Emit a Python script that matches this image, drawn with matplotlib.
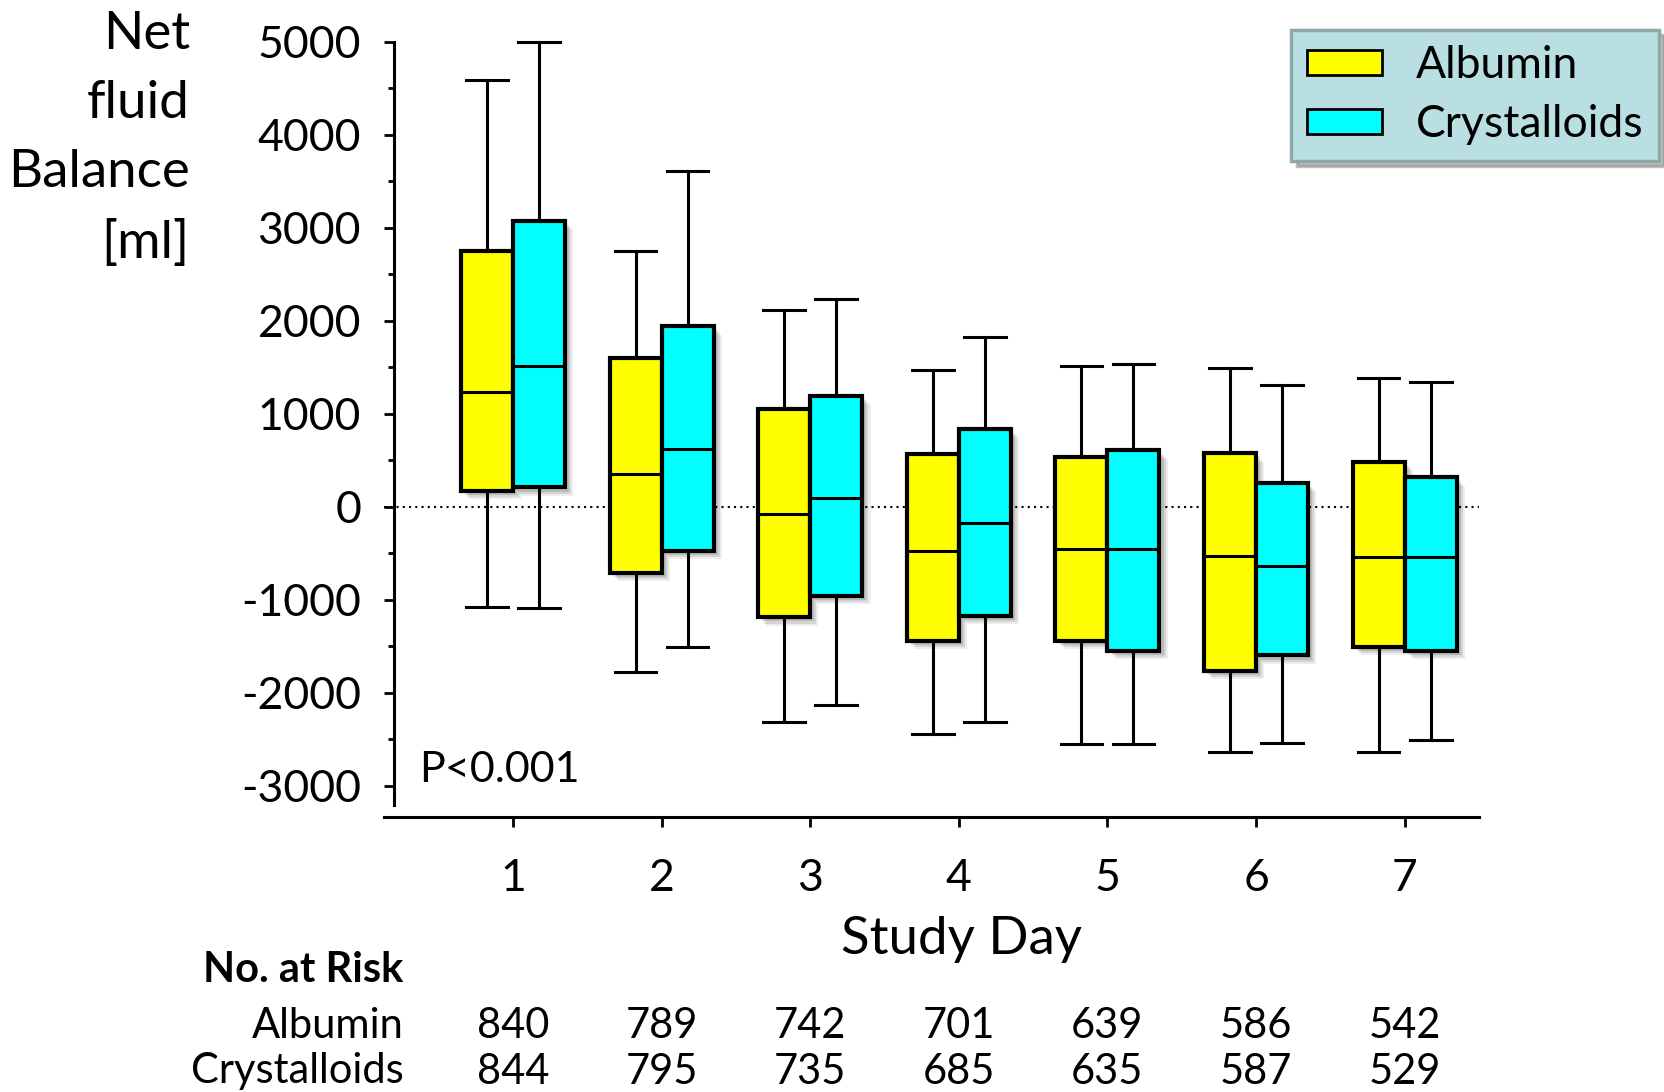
import numpy as np
import matplotlib
matplotlib.use("Agg")
import matplotlib.pyplot as plt
import matplotlib.patheffects as pe
from matplotlib.patches import Patch
from matplotlib.transforms import blended_transform_factory

plt.rcParams['font.family'] = ['Lato', 'DejaVu Sans']

# box statistics (ml)
days = [1, 2, 3, 4, 5, 6, 7]
alb_whislo = [-1079, -1773, -2312, -2444, -2555, -2641, -2638]
alb_q1 = [173, -708, -1189, -1444, -1441, -1767, -1505]
alb_med = [1228, 347, -82, -476, -458, -530, -541]
alb_q3 = [2750, 1604, 1050, 570, 538, 574, 484]
alb_whishi = [4591, 2746, 2112, 1466, 1516, 1488, 1387]

crys_whislo = [-1093, -1513, -2136, -2315, -2555, -2544, -2509]
crys_q1 = [207, -477, -960, -1175, -1552, -1598, -1548]
crys_med = [1508, 617, 94, -179, -458, -638, -541]
crys_q3 = [3073, 1941, 1194, 835, 606, 258, 316]
crys_whishi = [5000, 3613, 2233, 1821, 1534, 1312, 1341]

alb_risk = [840, 789, 742, 701, 639, 586, 542]
crys_risk = [844, 795, 735, 685, 635, 587, 529]

ALB_COLOR = "#ffff00"
CRYS_COLOR = "#00ffff"


def make_stats(lo, q1, med, q3, hi):
    return [dict(whislo=a, q1=b, med=c, q3=d, whishi=e, fliers=[])
            for a, b, c, d, e in zip(lo, q1, med, q3, hi)]


fig = plt.figure(figsize=(16.65, 10.92), dpi=100)
ax = fig.add_axes([0.2306, 0.2521, 0.8883 - 0.2306, 0.9661 - 0.2521])

ax.axhline(0, color="black", linestyle=(0, (1, 2)), linewidth=1.5, zorder=1)

# soft drop shadow behind the boxes
shadow = [pe.SimplePatchShadow(offset=(6, -6), shadow_rgbFace="black", alpha=0.07),
          pe.SimplePatchShadow(offset=(4.5, -4.5), shadow_rgbFace="black", alpha=0.10),
          pe.SimplePatchShadow(offset=(3, -3), shadow_rgbFace="black", alpha=0.12),
          pe.Normal()]

groups = [(make_stats(alb_whislo, alb_q1, alb_med, alb_q3, alb_whishi), -0.175, ALB_COLOR),
          (make_stats(crys_whislo, crys_q1, crys_med, crys_q3, crys_whishi), 0.175, CRYS_COLOR)]
for stats, off, col in groups:
    res = ax.bxp(stats, positions=[d + off for d in days], widths=0.35,
                 capwidths=0.28, patch_artist=True, showfliers=False,
                 boxprops=dict(facecolor=col, edgecolor="black", linewidth=3),
                 medianprops=dict(color="black", linewidth=2.2),
                 whiskerprops=dict(color="black", linewidth=2.2),
                 capprops=dict(color="black", linewidth=2.2),
                 manage_ticks=False, zorder=3)
    for b in res["boxes"]:
        b.set_path_effects(shadow)
        b.set_zorder(3)

ax.set_xlim(0.1325, 7.5)
ax.set_ylim(-3333, 5050)

ax.spines["top"].set_visible(False)
ax.spines["right"].set_visible(False)
ax.spines["left"].set_position(("data", 0.2025))
ax.spines["left"].set_bounds(-3210, 5000)
ax.spines["left"].set_linewidth(2.2)
ax.spines["bottom"].set_linewidth(2.2)

ax.set_yticks(np.arange(-3000, 5001, 1000))
ax.set_yticks(np.arange(-2500, 5000, 1000), minor=True)
ax.set_yticklabels([str(v) for v in range(-3000, 5001, 1000)])
ax.set_xticks(days)
ax.set_xticklabels([str(d) for d in days])
ax.tick_params(axis="y", which="major", direction="out", length=7, width=2,
               labelsize=32, pad=17)
ax.tick_params(axis="y", which="minor", direction="out", length=4.5, width=2)
ax.tick_params(axis="x", which="major", direction="out", length=7, width=2,
               labelsize=32, pad=23)

ax.text(0.372, -2831, "P<0.001", fontsize=31, ha="left", va="center")

fig.text(0.114, 0.990, "Net\nfluid\nBalance\n[ml]", fontsize=38, ha="right",
         va="top", multialignment="right", linespacing=1.58)
ax.set_xlabel("Study Day", fontsize=38)
ax.xaxis.set_label_coords(0.527, -0.157)
ax.xaxis.label.set_va("center")

handles = [Patch(facecolor=ALB_COLOR, edgecolor="black", linewidth=2, label="Albumin"),
           Patch(facecolor=CRYS_COLOR, edgecolor="black", linewidth=2, label="Crystalloids")]
leg = fig.legend(handles=handles, loc="upper right", bbox_to_anchor=(0.9962, 0.9728),
                 fontsize=32, frameon=True, fancybox=False,
                 facecolor="#b9dfe3", edgecolor="#8fa8aa", framealpha=1,
                 handlelength=1.7, handleheight=0.5, handletextpad=0.75,
                 labelspacing=0.4, borderpad=0.35, borderaxespad=0,
                 shadow={"color": "gray", "alpha": 0.5, "ox": 4, "oy": -4})
leg.get_frame().set_linewidth(2.5)

# number at risk table
trans = blended_transform_factory(ax.transData, fig.transFigure)
fig.text(0.2424, 1 - 969.5 / 1092, "No. at Risk", fontsize=30, fontweight="bold",
         ha="right", va="center")
fig.text(0.2424, 1 - 1025.5 / 1092, "Albumin", fontsize=30, ha="right", va="center")
fig.text(0.2424, 1 - 1071.5 / 1092, "Crystalloids", fontsize=30, ha="right", va="center")
for d, a, c in zip(days, alb_risk, crys_risk):
    ax.text(d, 1 - 1025.5 / 1092, str(a), transform=trans, fontsize=30,
            ha="center", va="center")
    ax.text(d, 1 - 1071.5 / 1092, str(c), transform=trans, fontsize=30,
            ha="center", va="center")

fig.savefig("out.png", dpi=100)
